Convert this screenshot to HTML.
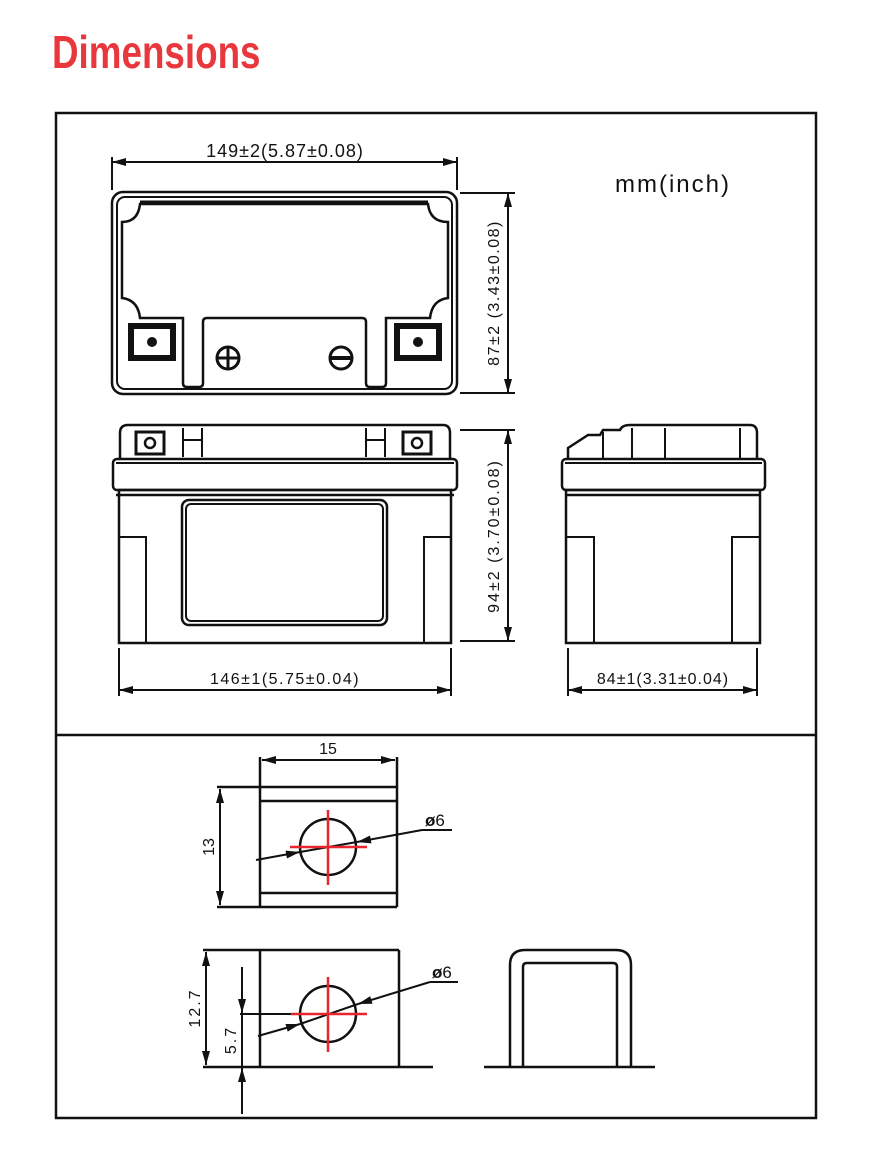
<!DOCTYPE html>
<html><head><meta charset="utf-8"><style>
html,body{margin:0;padding:0;background:#fff;width:882px;height:1172px;overflow:hidden}
svg{display:block}
text{font-family:"Liberation Sans",sans-serif;fill:#111}
</style></head><body>
<svg width="882" height="1172" viewBox="0 0 882 1172" xmlns="http://www.w3.org/2000/svg">
<defs>
<marker id="a" viewBox="0 0 10 10" refX="10" refY="5" markerWidth="14" markerHeight="8" orient="auto-start-reverse" markerUnits="userSpaceOnUse" preserveAspectRatio="none"><path d="M0,0 L10,5 L0,10 Z" fill="#111"/></marker>
</defs>
<text x="52" y="68" font-size="46" font-weight="bold" style="fill:#e8383d" transform="translate(52 0) scale(0.8 1) translate(-52 0)">Dimensions</text>
<g fill="none" stroke="#111" stroke-width="2.5">
<rect x="56" y="113" width="760" height="1005"/>
<line x1="56" y1="735" x2="816" y2="735"/>
</g>
<g fill="none" stroke="#111" stroke-width="2">
<line x1="112" y1="162" x2="457" y2="162" marker-start="url(#a)" marker-end="url(#a)"/>
<line x1="112" y1="157" x2="112" y2="190"/><line x1="457" y1="157" x2="457" y2="190"/>
<rect x="112" y="192" width="345" height="202" rx="11" stroke-width="2.5"/>
<rect x="117" y="197" width="335" height="192" rx="8"/>
<path d="M122,222 Q138,222 140,204 H428 Q430,222 448,222 V298 Q432,300 430,318 H386 V383 Q386,387 382,387 H370 Q366,387 366,383 V322 Q366,318 362,318 H207 Q203,318 203,322 V383 Q203,387 199,387 H187 Q183,387 183,383 V318 H140 Q138,300 122,298 Z" stroke-width="2.5"/>
<line x1="140" y1="202" x2="428" y2="202" stroke-width="3"/>
<rect x="131" y="326" width="42" height="32" stroke-width="6"/>
<rect x="397" y="326" width="42" height="32" stroke-width="6"/>
<circle cx="228" cy="358" r="11" stroke-width="3"/><line x1="217" y1="358" x2="239" y2="358" stroke-width="3"/><line x1="228" y1="347" x2="228" y2="369" stroke-width="3"/>
<circle cx="341" cy="358" r="11" stroke-width="3"/><line x1="330" y1="358" x2="352" y2="358" stroke-width="4"/>
<line x1="508" y1="193" x2="508" y2="393" marker-start="url(#a)" marker-end="url(#a)"/>
<line x1="460" y1="193" x2="515" y2="193"/><line x1="460" y1="393" x2="515" y2="393"/>
<path d="M120,460 V433 Q120,425 128,425 H443 Q450,425 450,433 V460" stroke-width="2.5"/>
<rect x="136" y="432" width="28" height="22" stroke-width="3"/><rect x="403" y="432" width="28" height="22" stroke-width="3"/>
<circle cx="150" cy="443" r="5" stroke-width="2.5"/><circle cx="417" cy="443" r="5" stroke-width="2.5"/>
<line x1="183" y1="428" x2="183" y2="457"/><line x1="202" y1="428" x2="202" y2="457"/>
<line x1="366" y1="428" x2="366" y2="457"/><line x1="385" y1="428" x2="385" y2="457"/>
<line x1="183" y1="440" x2="202" y2="440"/><line x1="366" y1="440" x2="385" y2="440"/>
<rect x="113" y="459" width="344" height="31" rx="4" stroke-width="2.5"/>
<line x1="116" y1="463" x2="454" y2="463"/>
<line x1="116" y1="495" x2="454" y2="495" stroke-width="2.5"/>
<rect x="119" y="490" width="332" height="153" stroke-width="2.5"/>
<rect x="119" y="537" width="27" height="106"/><rect x="424" y="537" width="27" height="106"/>
<rect x="182" y="500" width="205" height="125" rx="7" stroke-width="2.5"/>
<rect x="186" y="504" width="197" height="117" rx="5"/>
<line x1="508" y1="430" x2="508" y2="641" marker-start="url(#a)" marker-end="url(#a)"/>
<line x1="460" y1="430" x2="515" y2="430"/><line x1="460" y1="641" x2="515" y2="641"/>
<line x1="119" y1="690" x2="451" y2="690" marker-start="url(#a)" marker-end="url(#a)"/>
<line x1="119" y1="648" x2="119" y2="696"/><line x1="451" y1="648" x2="451" y2="696"/>
<path d="M568,460 V448 L588,435 H600 L603,430 H620 Q622,425 630,425 H750 Q757,425 757,433 V460" stroke-width="2.5"/>
<line x1="603" y1="432" x2="603" y2="458"/><line x1="632" y1="428" x2="632" y2="458"/>
<line x1="665" y1="428" x2="665" y2="458"/><line x1="740" y1="428" x2="740" y2="458"/>
<rect x="562" y="459" width="203" height="31" rx="4" stroke-width="2.5"/>
<line x1="565" y1="463" x2="762" y2="463"/>
<line x1="565" y1="495" x2="760" y2="495" stroke-width="2.5"/>
<rect x="566" y="490" width="194" height="153" stroke-width="2.5"/>
<rect x="566" y="537" width="28" height="106"/><rect x="732" y="537" width="28" height="106"/>
<line x1="568" y1="690" x2="757" y2="690" marker-start="url(#a)" marker-end="url(#a)"/>
<line x1="568" y1="648" x2="568" y2="696"/><line x1="757" y1="648" x2="757" y2="696"/>
<line x1="260" y1="757" x2="260" y2="907" stroke-width="2.5"/><line x1="397" y1="757" x2="397" y2="907" stroke-width="2.5"/>
<line x1="217" y1="787" x2="397" y2="787" stroke-width="2.5"/><line x1="217" y1="907" x2="397" y2="907" stroke-width="2.5"/>
<line x1="260" y1="801" x2="397" y2="801" stroke-width="2.5"/><line x1="260" y1="893" x2="397" y2="893" stroke-width="2.5"/>
<line x1="262" y1="760" x2="395" y2="760" marker-start="url(#a)" marker-end="url(#a)"/>
<line x1="220" y1="789" x2="220" y2="905" marker-start="url(#a)" marker-end="url(#a)"/>
<circle cx="328" cy="847" r="28" stroke-width="2.5"/>
<line x1="256" y1="860" x2="300" y2="852" marker-end="url(#a)"/>
<line x1="422" y1="830" x2="357" y2="842" marker-end="url(#a)"/>
<line x1="300" y1="852" x2="357" y2="842"/>
<line x1="422" y1="830" x2="452" y2="830"/>
<line x1="203" y1="950" x2="399" y2="950" stroke-width="2.5"/>
<line x1="203" y1="1067" x2="433" y2="1067" stroke-width="2.5"/>
<line x1="260" y1="950" x2="260" y2="1067" stroke-width="2.5"/><line x1="399" y1="950" x2="399" y2="1067" stroke-width="2.5"/>
<line x1="206" y1="952" x2="206" y2="1065" marker-start="url(#a)" marker-end="url(#a)"/>
<line x1="242" y1="967" x2="242" y2="1013" marker-end="url(#a)"/>
<line x1="242" y1="1013" x2="242" y2="1068"/>
<line x1="242" y1="1114" x2="242" y2="1068" marker-end="url(#a)"/>
<line x1="240" y1="1014" x2="292" y2="1014"/>
<circle cx="328" cy="1014" r="28" stroke-width="2.5"/>
<line x1="258" y1="1036" x2="300" y2="1024" marker-end="url(#a)"/>
<line x1="300" y1="1024" x2="358" y2="1004"/>
<line x1="430" y1="982" x2="358" y2="1004" marker-end="url(#a)"/>
<line x1="430" y1="982" x2="458" y2="982"/>
<path d="M510,1067 V965 Q510,950 525,950 H616 Q631,950 631,965 V1067" stroke-width="2.5"/>
<path d="M523,1067 V967 Q523,963 527,963 H613 Q617,963 617,967 V1067" stroke-width="2.5"/>
<line x1="484" y1="1067" x2="655" y2="1067" stroke-width="2.5"/>
</g>
<g fill="#111">
<circle cx="152" cy="342" r="5"/><circle cx="418" cy="342" r="5"/>
</g>
<g stroke="#e8262d" stroke-width="2.5">
<line x1="290" y1="847" x2="367" y2="847"/><line x1="328" y1="810" x2="328" y2="885"/>
<line x1="291" y1="1014" x2="367" y2="1014"/><line x1="328" y1="977" x2="328" y2="1052"/>
</g>
<g font-size="17">
<text x="285" y="157" text-anchor="middle" font-size="18" letter-spacing="1">149±2(5.87±0.08)</text>
<text x="285" y="684" text-anchor="middle" font-size="16" letter-spacing="1.5">146±1(5.75±0.04)</text>
<text x="663" y="684" text-anchor="middle" font-size="16" letter-spacing="1">84±1(3.31±0.04)</text>
<text x="673" y="192" text-anchor="middle" font-size="24" letter-spacing="2">mm(inch)</text>
<text transform="translate(499 293) rotate(-90)" text-anchor="middle" font-size="16" letter-spacing="1.5">87±2 (3.43±0.08)</text>
<text transform="translate(499 536) rotate(-90)" text-anchor="middle" font-size="16" letter-spacing="2">94±2 (3.70±0.08)</text>
<text x="328" y="754" text-anchor="middle" font-size="16">15</text>
<text transform="translate(214 847) rotate(-90)" text-anchor="middle" font-size="16">13</text>
<text x="425" y="826" font-size="17" font-weight="bold">ø<tspan font-weight="normal">6</tspan></text>
<text x="432" y="978" font-size="17" font-weight="bold">ø<tspan font-weight="normal">6</tspan></text>
<text transform="translate(200 1008) rotate(-90)" text-anchor="middle" font-size="16" letter-spacing="2">12.7</text>
<text transform="translate(236 1040) rotate(-90)" text-anchor="middle" font-size="16" letter-spacing="2">5.7</text>
</g>
</svg>
</body></html>
